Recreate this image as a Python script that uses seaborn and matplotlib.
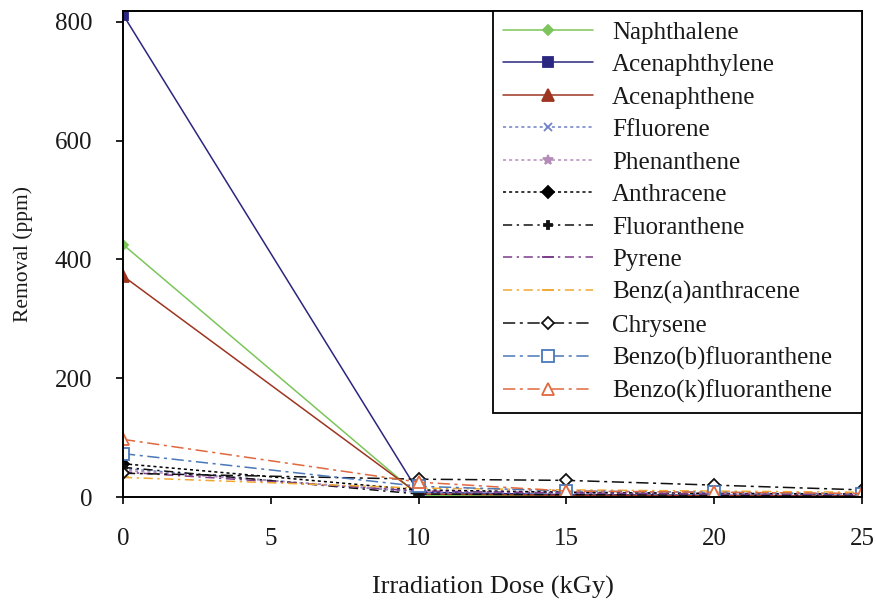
import matplotlib
matplotlib.use("Agg")
import matplotlib.pyplot as plt
import seaborn as sns
import pandas as pd

sns.set_theme(style="white")
plt.rcParams['font.family'] = ['Liberation Serif', 'DejaVu Serif']

doses = [0, 10, 15, 20, 25]
compounds = ["Naphthalene", "Acenaphthylene", "Acenaphthene", "Ffluorene", "Phenanthene",
             "Anthracene", "Fluoranthene", "Pyrene", "Benz(a)anthracene", "Chrysene",
             "Benzo(b)fluoranthene", "Benzo(k)fluoranthene"]
naphthalene = [425, 3, 2, 1, 1]
acenaphthylene = [812, 8, 4, 3, 2]
acenaphthene = [372, 5, 3, 2, 2]
ffluorene = [48, 8, 6, 5, 4]
phenanthene = [45, 10, 8, 6, 5]
anthracene = [56, 12, 8, 6, 5]
fluoranthene = [50, 5, 4, 3, 2]
pyrene = [42, 10, 7, 5, 4]
benz_a_anthracene = [33, 15, 12, 10, 8]
chrysene = [40, 30, 28, 20, 12]
benzo_b_fluoranthene = [73, 18, 10, 8, 5]
benzo_k_fluoranthene = [97, 25, 10, 8, 6]
values = [naphthalene, acenaphthylene, acenaphthene, ffluorene, phenanthene, anthracene,
          fluoranthene, pyrene, benz_a_anthracene, chrysene, benzo_b_fluoranthene,
          benzo_k_fluoranthene]

styles = {
    "Naphthalene": dict(color="#7cc55a", dashes=None, marker="D", mfc="#7cc55a", ms=5),
    "Acenaphthylene": dict(color="#2b2680", dashes=None, marker="s", mfc="#2b2680", ms=7),
    "Acenaphthene": dict(color="#9e3520", dashes=None, marker="^", mfc="#9e3520", ms=8),
    "Ffluorene": dict(color="#6f80c8", dashes=(2, 2), marker="x", mfc="#6f80c8", ms=6),
    "Phenanthene": dict(color="#b48cb8", dashes=(2, 2), marker="*", mfc="#b48cb8", ms=7),
    "Anthracene": dict(color="#000000", dashes=(2, 2), marker="D", mfc="#000000", ms=6),
    "Fluoranthene": dict(color="#111111", dashes=(6, 3, 1.5, 3), marker="P", mfc="#111111", ms=6),
    "Pyrene": dict(color="#7a3a8a", dashes=(6, 3, 1.5, 3), marker="_", mfc="#7a3a8a", ms=8),
    "Benz(a)anthracene": dict(color="#f0a830", dashes=(6, 3, 1.5, 3), marker="_", mfc="#f0a830", ms=8),
    "Chrysene": dict(color="#111111", dashes=(8, 3, 2, 3), marker="D", mfc="white", ms=6),
    "Benzo(b)fluoranthene": dict(color="#4a78b8", dashes=(8, 3, 2, 3), marker="s", mfc="white", ms=8),
    "Benzo(k)fluoranthene": dict(color="#e0683e", dashes=(8, 3, 2, 3), marker="^", mfc="white", ms=9),
}

fig = plt.figure(figsize=(8.76, 6.05), dpi=100)
ax = fig.add_axes([0.1404, 0.1785, 0.8436, 0.8033])

for name, vals in zip(compounds, values):
    st = styles[name]
    df = pd.DataFrame({"dose": doses, "removal": vals})
    kw = {}
    if st["dashes"] is not None:
        kw["dashes"] = st["dashes"]
    sns.lineplot(data=df, x="dose", y="removal", ax=ax, color=st["color"], label=name,
                 linewidth=1.1, marker=st["marker"], markersize=st["ms"],
                 markerfacecolor=st["mfc"], markeredgecolor=st["color"], markeredgewidth=1.3,
                 **kw)

ax.set_xlim(0, 25)
ax.set_ylim(0, 818)
ax.set_xticks([0, 5, 10, 15, 20, 25])
ax.set_yticks([0, 200, 400, 600, 800])
ax.tick_params(axis="both", direction="out", length=5, width=1.2, labelsize=18,
               colors="black", pad=17, bottom=True, left=True)
ax.tick_params(axis="x", labelcolor="#1a1a1a")
ax.tick_params(axis="y", labelcolor="#1a1a1a")
for sp in ax.spines.values():
    sp.set_color("black")
    sp.set_linewidth(1.4)
ax.set_xlabel("Irradiation Dose (kGy)", fontsize=19, labelpad=19, color="#1a1a1a")
ax.set_ylabel("Removal (ppm)", fontsize=15.5, labelpad=16, color="#1a1a1a")

leg = ax.legend(loc="upper left", bbox_to_anchor=(0.5007, 0.0, 0.4993, 1.0), mode="expand",
                fontsize=18, frameon=True, fancybox=False, edgecolor="black", framealpha=1,
                labelspacing=0.40, handlelength=3.6, handletextpad=0.75, borderpad=0.4,
                borderaxespad=0.0)
leg.get_frame().set_linewidth(1.3)
for t in leg.get_texts():
    t.set_color("#1a1a1a")

fig.savefig("out.png", dpi=100)
